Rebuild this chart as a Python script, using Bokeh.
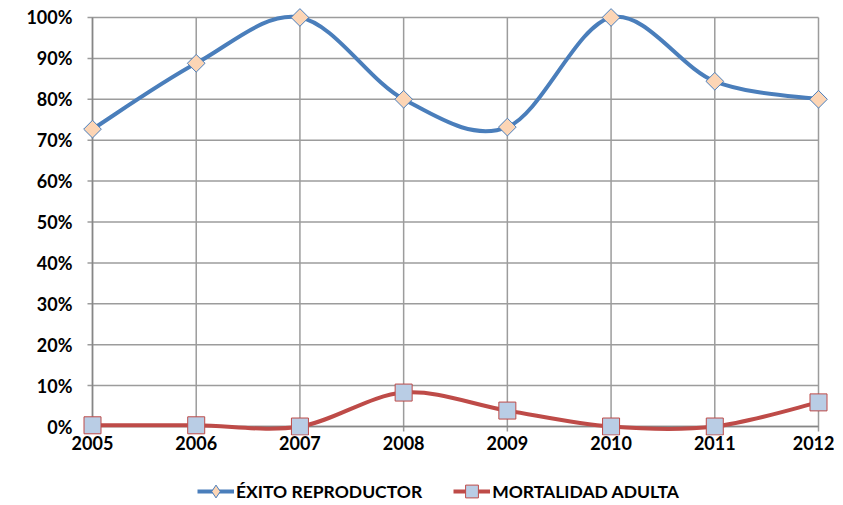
import math
from bokeh.plotting import figure
from bokeh.layouts import column
from bokeh.models import Legend, LegendItem, FixedTicker, NumeralTickFormatter, Range1d, ColumnDataSource
from bokeh.embed import file_html
from bokeh.resources import INLINE

years = [2005, 2006, 2007, 2008, 2009, 2010, 2011, 2012]
exito = [0.727, 0.888, 1.00, 0.800, 0.732, 1.00, 0.844, 0.800]
mortalidad = [0.003, 0.003, 0.0, 0.083, 0.039, 0.0, 0.0, 0.059]
y_ticks = [0.0, 0.1, 0.2, 0.3, 0.4, 0.5, 0.6, 0.7, 0.8, 0.9, 1.0]
series_names = ["ÉXITO REPRODUCTOR", "MORTALIDAD ADULTA"]

FONT = "Lato"
BLUE = "#4A7EBB"
RED = "#BE4B48"
GRID = "#9C9C9C"
AXIS = "#868686"
DIAMOND_FILL = "#FCD5B5"
SQUARE_FILL = "#B9CDE5"

# pixel geometry of the plot area
PX_PER_YEAR = 726 / 7.0
PX_PER_UNIT = 410.0
PAD_L, PAD_R, PAD_T, PAD_B = 12, 12, 12, 9
TICK = 5


def smooth(xs, ys):
    n = len(xs)
    d = dict(x0=[], y0=[], x1=[], y1=[], cx0=[], cy0=[], cx1=[], cy1=[])
    for i in range(n - 1):
        pm = i - 1 if i > 0 else i
        pp = i + 2 if i + 2 < n else i + 1
        d["x0"].append(xs[i]); d["y0"].append(ys[i])
        d["x1"].append(xs[i + 1]); d["y1"].append(ys[i + 1])
        d["cx0"].append(xs[i] + (xs[i + 1] - xs[pm]) / 6)
        d["cy0"].append(ys[i] + (ys[i + 1] - ys[pm]) / 6)
        d["cx1"].append(xs[i + 1] - (xs[pp] - xs[i]) / 6)
        d["cy1"].append(ys[i + 1] - (ys[pp] - ys[i]) / 6)
    return ColumnDataSource(d)


x0 = years[0] - PAD_L / PX_PER_YEAR
x1 = years[-1] + PAD_R / PX_PER_YEAR
y0 = y_ticks[0] - PAD_B / PX_PER_UNIT
y1 = y_ticks[-1] + PAD_T / PX_PER_UNIT

p = figure(width=834, height=459, output_backend="svg", toolbar_location=None,
           x_range=Range1d(x0, x1), y_range=Range1d(y0, y1),
           min_border_left=80, min_border_right=4, min_border_top=5, min_border_bottom=24)
p.outline_line_color = None
p.background_fill_color = "white"
p.border_fill_color = "white"
p.xgrid.visible = False
p.ygrid.visible = False

# plot-area grid lines (with short outward ticks)
xl = years[0] - TICK / PX_PER_YEAR
yb = y_ticks[0] - TICK / PX_PER_UNIT
p.segment(x0=[xl] * len(y_ticks), x1=[years[-1]] * len(y_ticks), y0=y_ticks, y1=y_ticks,
          line_color=GRID, line_width=1.5)
p.segment(x0=years, x1=years, y0=[yb] * len(years), y1=[y_ticks[-1]] * len(years),
          line_color=GRID, line_width=1.5)
# axis lines of the plot area
p.segment(x0=[xl, years[0]], x1=[years[-1], years[0]],
          y0=[y_ticks[0], yb], y1=[y_ticks[0], y_ticks[-1]],
          line_color=AXIS, line_width=1.5)

p.xaxis.ticker = FixedTicker(ticks=years)
p.yaxis.ticker = FixedTicker(ticks=y_ticks)
p.yaxis.formatter = NumeralTickFormatter(format="0%")
for ax in (p.xaxis, p.yaxis):
    ax.axis_line_color = None
    ax.major_tick_line_color = None
    ax.minor_tick_line_color = None
    ax.major_tick_in = 0
    ax.major_tick_out = 0
    ax.major_label_text_font = FONT
    ax.major_label_text_font_style = "bold"
    ax.major_label_text_font_size = "18px"
    ax.major_label_text_color = "black"
p.yaxis.major_label_standoff = 8
p.xaxis.major_label_standoff = 0

s1 = smooth(years, exito)
s2 = smooth(years, mortalidad)
p.bezier(x0="x0", y0="y0", x1="x1", y1="y1", cx0="cx0", cy0="cy0", cx1="cx1", cy1="cy1",
         source=s1, line_color=BLUE, line_width=4)
p.bezier(x0="x0", y0="y0", x1="x1", y1="y1", cx0="cx0", cy0="cy0", cx1="cx1", cy1="cy1",
         source=s2, line_color=RED, line_width=4)
p.scatter(years, exito, marker="square", size=12.5, angle=math.pi / 4,
          fill_color=DIAMOND_FILL, line_color=BLUE, line_width=1)
p.scatter(years, mortalidad, marker="square", size=17, fill_color=SQUARE_FILL,
          line_color=RED, line_width=1)

# legend strip (separate figure so it is not clipped by the plot frame);
# its proxy renderers hold the series but lie outside this strip's ranges
lf = figure(width=834, height=44, output_backend="svg", toolbar_location=None,
            x_range=Range1d(0, 1), y_range=Range1d(0, 1),
            min_border_left=0, min_border_right=0, min_border_top=0, min_border_bottom=0)
lf.axis.visible = False
lf.grid.visible = False
lf.outline_line_color = None
lf.border_fill_color = "white"
r1 = lf.line(years, exito, line_color=BLUE, line_width=4)
k1 = lf.scatter(years, exito, marker="diamond", fill_color=DIAMOND_FILL,
                line_color=BLUE, line_width=1)
r2 = lf.line(years, mortalidad, line_color=RED, line_width=4)
k2 = lf.scatter(years, mortalidad, marker="square", fill_color=SQUARE_FILL,
                line_color=RED, line_width=1)

legend = Legend(items=[
    LegendItem(label=series_names[0], renderers=[r1, k1]),
    LegendItem(label=series_names[1], renderers=[r2, k2]),
], orientation="horizontal", location=(117, -4))
legend.label_text_font = FONT
legend.label_text_font_style = "bold"
legend.label_text_font_size = "17.5px"
legend.label_text_color = "black"
legend.label_standoff = 2
legend.glyph_width = 37
legend.glyph_height = 32
legend.label_height = 30
legend.spacing = 31
legend.border_line_color = None
legend.background_fill_alpha = 0
legend.padding = 0
legend.margin = 0
lf.add_layout(legend)

layout = column(p, lf, spacing=0)
open("out.html", "w").write(file_html(layout, INLINE))
